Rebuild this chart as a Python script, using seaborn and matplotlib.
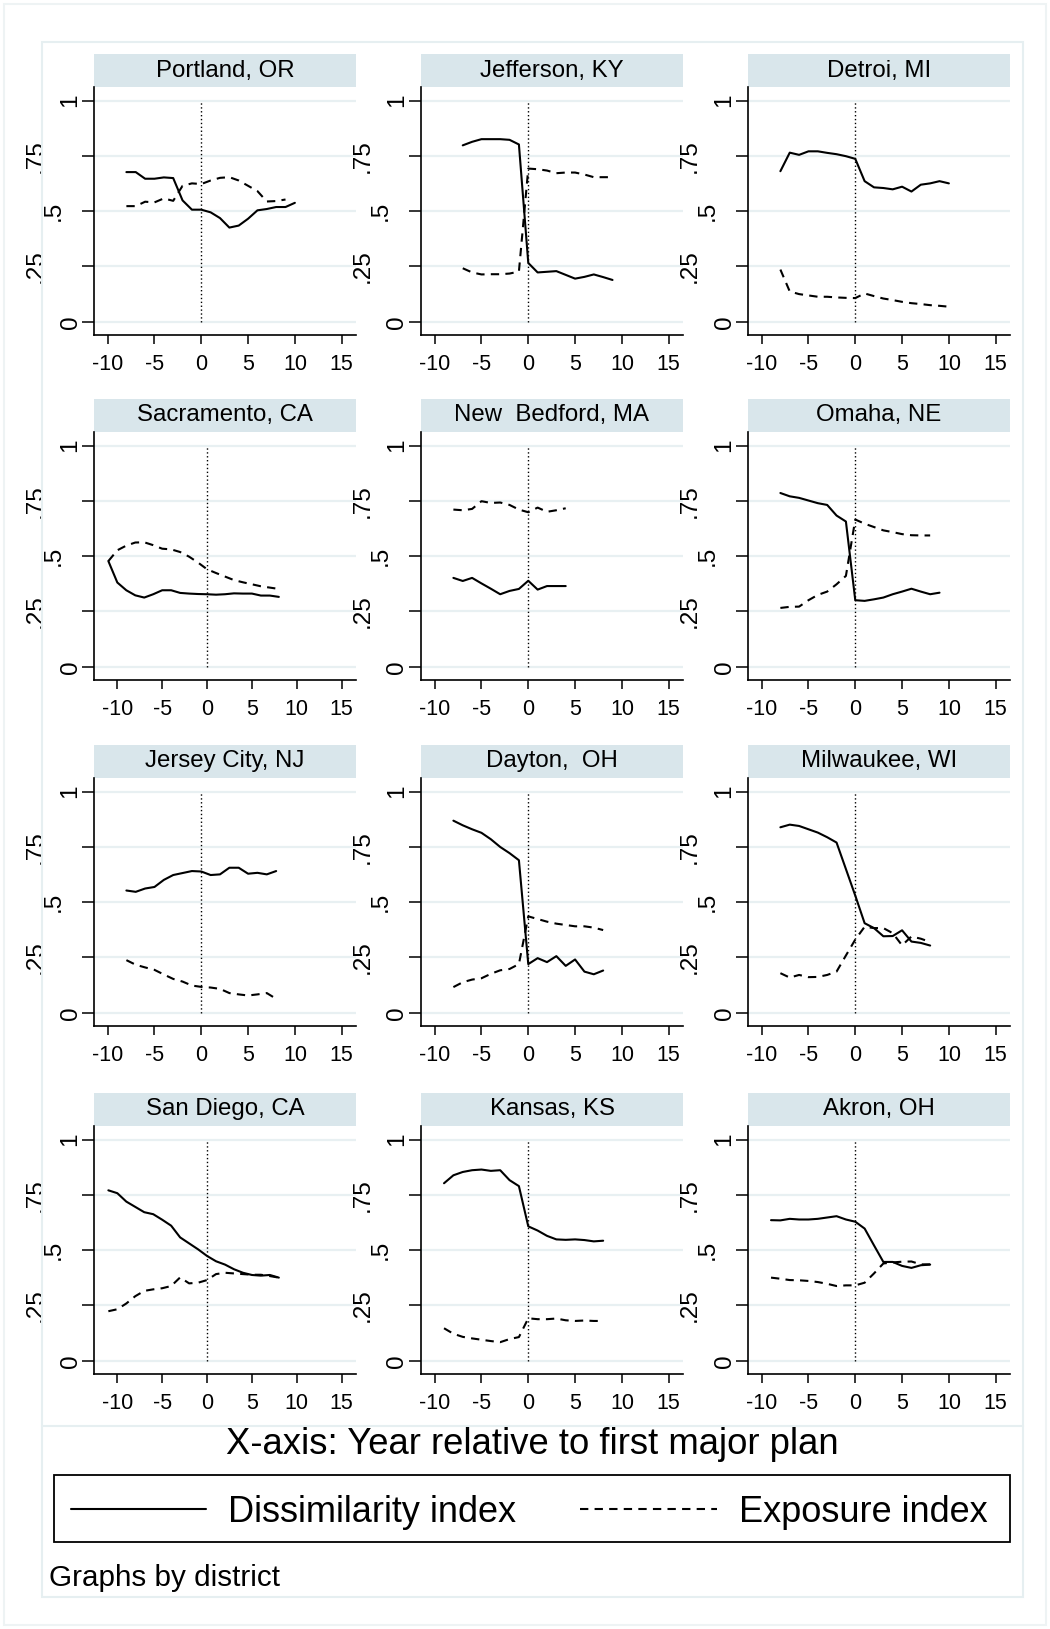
import numpy as np
import pandas as pd
import matplotlib
matplotlib.use("Agg")
import matplotlib.pyplot as plt
import seaborn as sns
from matplotlib.patches import Rectangle
from matplotlib.lines import Line2D

# ---------------- data ----------------
districts = ["Portland, OR", "Jefferson, KY", "Detroi, MI",
             "Sacramento, CA", "New  Bedford, MA", "Omaha, NE",
             "Jersey City, NJ", "Dayton,  OH", "Milwaukee, WI",
             "San Diego, CA", "Kansas, KS", "Akron, OH"]

portland_yr_d = [-8, -7, -6, -5, -4, -3, -2, -1, 0, 1, 2, 3, 4, 5, 6, 7, 8, 9, 10]
portland_d = [0.677, 0.677, 0.647, 0.647, 0.653, 0.650, 0.549, 0.507, 0.507, 0.495,
              0.469, 0.426, 0.435, 0.466, 0.504, 0.510, 0.519, 0.519, 0.538]
portland_yr_e = [-8, -7, -6, -5, -4, -3, -2, -1, 0, 1, 2, 3, 4, 5, 6, 7, 8, 9]
portland_e = [0.523, 0.523, 0.543, 0.540, 0.558, 0.547, 0.615, 0.626, 0.623, 0.639,
              0.651, 0.654, 0.639, 0.615, 0.591, 0.544, 0.546, 0.553]

jefferson_yr = [-7, -6, -5, -4, -3, -2, -1, 0, 1, 2, 3, 4, 5, 6, 7, 8, 9]
jefferson_d = [0.798, 0.814, 0.826, 0.826, 0.826, 0.823, 0.802, 0.266, 0.223, 0.226,
               0.229, 0.212, 0.195, 0.203, 0.214, 0.202, 0.189]
jefferson_e = [0.242, 0.223, 0.214, 0.215, 0.215, 0.218, 0.227, 0.693, 0.690, 0.684,
               0.672, 0.675, 0.675, 0.666, 0.654, 0.654, 0.654]

detroit_yr = [-8, -7, -6, -5, -4, -3, -2, -1, 0, 1, 2, 3, 4, 5, 6, 7, 8, 9, 10]
detroit_d = [0.681, 0.765, 0.755, 0.771, 0.771, 0.764, 0.758, 0.749, 0.737, 0.636,
             0.608, 0.605, 0.599, 0.611, 0.589, 0.620, 0.626, 0.636, 0.626]
detroit_e = [0.236, 0.137, 0.125, 0.119, 0.113, 0.113, 0.110, 0.108, 0.107, 0.128,
             0.116, 0.105, 0.098, 0.090, 0.084, 0.080, 0.075, 0.072, 0.068]

sacramento_yr = [-11, -10, -9, -8, -7, -6, -5, -4, -3, -2, -1, 0, 1, 2, 3, 4, 5, 6, 7, 8]
sacramento_d = [0.478, 0.381, 0.346, 0.323, 0.313, 0.328, 0.346, 0.346, 0.334, 0.331,
                0.329, 0.328, 0.326, 0.328, 0.332, 0.331, 0.331, 0.322, 0.322, 0.316]
sacramento_e = [0.478, 0.527, 0.548, 0.562, 0.563, 0.550, 0.534, 0.531, 0.519, 0.498,
                0.471, 0.441, 0.424, 0.408, 0.392, 0.382, 0.373, 0.364, 0.358, 0.352]

newbedford_yr = [-8, -7, -6, -5, -4, -3, -2, -1, 0, 1, 2, 3, 4]
newbedford_d = [0.402, 0.388, 0.402, 0.377, 0.353, 0.328, 0.343, 0.352, 0.389, 0.349,
                0.365, 0.365, 0.365]
newbedford_e = [0.711, 0.708, 0.714, 0.749, 0.741, 0.743, 0.732, 0.711, 0.699, 0.720,
                0.701, 0.708, 0.717]

omaha_yr_d = [-8, -7, -6, -5, -4, -3, -2, -1, 0, 1, 2, 3, 4, 5, 6, 7, 8, 9]
omaha_d = [0.786, 0.771, 0.764, 0.752, 0.740, 0.732, 0.684, 0.657, 0.301, 0.298,
           0.305, 0.313, 0.328, 0.340, 0.353, 0.340, 0.328, 0.335]
omaha_yr_e = [-8, -7, -6, -5, -4, -3, -2, -1, 0, 1, 2, 3, 4, 5, 6, 7, 8]
omaha_e = [0.266, 0.271, 0.272, 0.301, 0.325, 0.340, 0.373, 0.411, 0.666, 0.647,
           0.632, 0.617, 0.609, 0.600, 0.595, 0.594, 0.594]

jersey_yr = [-8, -7, -6, -5, -4, -3, -2, -1, 0, 1, 2, 3, 4, 5, 6, 7, 8]
jersey_d = [0.553, 0.547, 0.562, 0.569, 0.601, 0.623, 0.632, 0.641, 0.639, 0.623,
            0.626, 0.656, 0.656, 0.629, 0.633, 0.626, 0.641]
jersey_e = [0.238, 0.217, 0.205, 0.194, 0.173, 0.153, 0.141, 0.123, 0.117, 0.114,
            0.108, 0.089, 0.083, 0.078, 0.083, 0.089, 0.063]

dayton_yr = [-8, -7, -6, -5, -4, -3, -2, -1, 0, 1, 2, 3, 4, 5, 6, 7, 8]
dayton_d = [0.869, 0.848, 0.830, 0.814, 0.785, 0.750, 0.722, 0.690, 0.220, 0.247,
            0.229, 0.256, 0.212, 0.241, 0.186, 0.174, 0.191]
dayton_e = [0.116, 0.138, 0.150, 0.156, 0.176, 0.192, 0.198, 0.220, 0.436, 0.424,
            0.412, 0.403, 0.397, 0.391, 0.391, 0.385, 0.374]

milwaukee_yr = [-8, -7, -6, -5, -4, -3, -2, -1, 0, 1, 2, 3, 4, 5, 6, 7, 8]
milwaukee_d = [0.839, 0.851, 0.845, 0.830, 0.815, 0.794, 0.770, 0.650, 0.530, 0.405,
               0.383, 0.346, 0.347, 0.373, 0.322, 0.316, 0.304]
milwaukee_e = [0.179, 0.159, 0.171, 0.161, 0.162, 0.171, 0.186, 0.259, 0.331, 0.389,
               0.383, 0.383, 0.360, 0.305, 0.345, 0.335, 0.320]

sandiego_yr = [-11, -10, -9, -8, -7, -6, -5, -4, -3, -2, -1, 0, 1, 2, 3, 4, 5, 6, 7, 8]
sandiego_d = [0.771, 0.758, 0.720, 0.696, 0.672, 0.663, 0.638, 0.611, 0.558, 0.531,
              0.504, 0.474, 0.450, 0.435, 0.414, 0.398, 0.388, 0.385, 0.388, 0.376]
sandiego_e = [0.224, 0.233, 0.259, 0.292, 0.316, 0.323, 0.328, 0.338, 0.377, 0.350,
              0.353, 0.365, 0.392, 0.398, 0.395, 0.392, 0.389, 0.389, 0.383, 0.376]

kansas_yr = [-9, -8, -7, -6, -5, -4, -3, -2, -1, 0, 1, 2, 3, 4, 5, 6, 7, 8]
kansas_d = [0.803, 0.839, 0.854, 0.862, 0.865, 0.859, 0.862, 0.817, 0.790, 0.608,
            0.589, 0.565, 0.549, 0.547, 0.549, 0.546, 0.540, 0.543]
kansas_e = [0.147, 0.122, 0.108, 0.101, 0.095, 0.089, 0.084, 0.098, 0.107, 0.192,
            0.188, 0.188, 0.191, 0.183, 0.180, 0.182, 0.180, 0.180]

akron_yr = [-9, -8, -7, -6, -5, -4, -3, -2, -1, 0, 1, 2, 3, 4, 5, 6, 7, 8]
akron_d = [0.636, 0.635, 0.642, 0.639, 0.639, 0.642, 0.648, 0.654, 0.639, 0.629,
           0.598, 0.522, 0.447, 0.447, 0.429, 0.420, 0.432, 0.435]
akron_e = [0.376, 0.371, 0.365, 0.364, 0.361, 0.356, 0.348, 0.338, 0.341, 0.341,
           0.353, 0.395, 0.440, 0.445, 0.448, 0.449, 0.436, 0.436]

series_names = ["Dissimilarity index", "Exposure index"]
xticks = [-10, -5, 0, 5, 10, 15]
xtick_labels = ["-10", "-5", "0", "5", "10", "15"]
yticks = [0, 0.25, 0.5, 0.75, 1]
ytick_labels = ["0", ".25", ".5", ".75", "1"]

panel_data = {
    "Portland, OR": (portland_yr_d, portland_d, portland_yr_e, portland_e),
    "Jefferson, KY": (jefferson_yr, jefferson_d, jefferson_yr, jefferson_e),
    "Detroi, MI": (detroit_yr, detroit_d, detroit_yr, detroit_e),
    "Sacramento, CA": (sacramento_yr, sacramento_d, sacramento_yr, sacramento_e),
    "New  Bedford, MA": (newbedford_yr, newbedford_d, newbedford_yr, newbedford_e),
    "Omaha, NE": (omaha_yr_d, omaha_d, omaha_yr_e, omaha_e),
    "Jersey City, NJ": (jersey_yr, jersey_d, jersey_yr, jersey_e),
    "Dayton,  OH": (dayton_yr, dayton_d, dayton_yr, dayton_e),
    "Milwaukee, WI": (milwaukee_yr, milwaukee_d, milwaukee_yr, milwaukee_e),
    "San Diego, CA": (sandiego_yr, sandiego_d, sandiego_yr, sandiego_e),
    "Kansas, KS": (kansas_yr, kansas_d, kansas_yr, kansas_e),
    "Akron, OH": (akron_yr, akron_d, akron_yr, akron_e),
}

# ---------------- style ----------------
sns.set_theme(style="white")
plt.rcParams['font.family'] = ['Liberation Sans', 'DejaVu Sans']
plt.rcParams['ytick.labelsize'] = 17.5
plt.rcParams['xtick.labelsize'] = 15.5

W, H = 1050, 1629
fig = plt.figure(figsize=(W / 100, H / 100), dpi=100)
fig.patch.set_facecolor("white")

col_left_px = [94, 421, 748]
ax_w_px = 262
row_top_px = [87, 432, 778, 1126]
ax_h_px = 248
strip_px = 33
wide_x = ("Sacramento, CA", "San Diego, CA")

grid_col = "#E8F0F2"
strip_col = "#D9E6EB"
ypad = {"0": 0.0, "1": 0.0, ".5": 12.3, ".25": 25.0, ".75": 25.0}

for i, name in enumerate(districts):
    r, c = divmod(i, 3)
    ax = fig.add_axes([col_left_px[c] / W, 1 - (row_top_px[r] + ax_h_px) / H,
                       ax_w_px / W, ax_h_px / H])
    yd, vd, ye, ve = panel_data[name]
    df = pd.concat([
        pd.DataFrame({"year": yd, "value": vd, "series": series_names[0]}),
        pd.DataFrame({"year": ye, "value": ve, "series": series_names[1]}),
    ], ignore_index=True)
    sns.lineplot(data=df, x="year", y="value", style="series",
                 dashes={series_names[0]: "", series_names[1]: (4, 3)},
                 color="black", linewidth=1.5, legend=False, ax=ax,
                 estimator=None, zorder=3)
    ax.vlines(0, 0, 1, colors="black", linestyles=(0, (1, 1.8)), linewidth=1.0, zorder=2)

    if name in wide_x:
        ax.set_xlim(-12.6, 16.6)
    else:
        ax.set_xlim(-11.46, 16.53)
    ax.set_ylim(-0.06, 1.062)
    ax.set_xlabel("")
    ax.set_ylabel("")
    ax.grid(axis="y", color=grid_col, linewidth=1.6)
    ax.grid(axis="x", visible=False)
    ax.set_axisbelow(True)
    ax.set_facecolor("white")
    for s in ["top", "right"]:
        ax.spines[s].set_visible(False)
    for s in ["left", "bottom"]:
        ax.spines[s].set_color("black")
        ax.spines[s].set_linewidth(1.2)
    ax.tick_params(axis="x", bottom=True, length=6.5, width=1.1, color="black",
                   labelsize=15.5, pad=7, labelcolor="black")
    ax.tick_params(axis="y", left=True, length=9, width=1.1, color="black",
                   labelsize=17.5, labelcolor="black")
    ax.set_xticks(xticks, labels=xtick_labels, fontsize=15.5)
    ax.set_yticks(yticks, labels=ytick_labels, rotation=90, va="center", fontsize=17.5)
    for tick, lab in zip(ax.yaxis.get_major_ticks(), ytick_labels):
        tick.set_pad(ypad[lab])
    for lab in ax.get_yticklabels():
        lab.set_fontsize(17.5)

    ax.add_patch(Rectangle((0, 1), 1, strip_px / ax_h_px, transform=ax.transAxes,
                           facecolor=strip_col, edgecolor="none", clip_on=False))
    ax.text(0.5, 1 + strip_px / ax_h_px / 2, name, transform=ax.transAxes,
            ha="center", va="center", fontsize=17.3, color="black")

# ---------------- frames ----------------
def fx(px):
    return px / W

def fy(py):
    return 1 - py / H

fig.patches.append(Rectangle((fx(4), fy(1625)), fx(1042), 1621 / H, transform=fig.transFigure,
                             facecolor="none", edgecolor="#EEF3F4", linewidth=1.5))
fig.patches.append(Rectangle((fx(41.5), fy(1597)), fx(981.5), 1555.5 / H, transform=fig.transFigure,
                             facecolor="none", edgecolor="#E6EFF1", linewidth=1.5))
fig.lines.append(Line2D([fx(41.5), fx(1023)], [fy(1426), fy(1426)], transform=fig.transFigure,
                        color="#E6EFF1", linewidth=1.5))

# ---------------- note and legend ----------------
fig.text(fx(532), fy(1444), "X-axis: Year relative to first major plan",
         ha="center", va="center", fontsize=26.3, color="black")

fig.patches.append(Rectangle((fx(54), fy(1542)), fx(956), 67 / H, transform=fig.transFigure,
                             facecolor="white", edgecolor="black", linewidth=1.3))
fig.lines.append(Line2D([fx(70.6), fx(205.6)], [fy(1509), fy(1509)], transform=fig.transFigure,
                        color="black", linewidth=1.5))
fig.lines.append(Line2D([fx(579.5), fx(716.6)], [fy(1509), fy(1509)], transform=fig.transFigure,
                        color="black", linewidth=1.5, linestyle=(0, (4, 3))))
fig.text(fx(228), fy(1512), series_names[0], ha="left", va="center", fontsize=26, color="black")
fig.text(fx(739), fy(1512), series_names[1], ha="left", va="center", fontsize=26, color="black")

fig.text(fx(49), fy(1578), "Graphs by district", ha="left", va="center", fontsize=21.3, color="black")

fig.savefig("out.png", dpi=100, facecolor="white")
